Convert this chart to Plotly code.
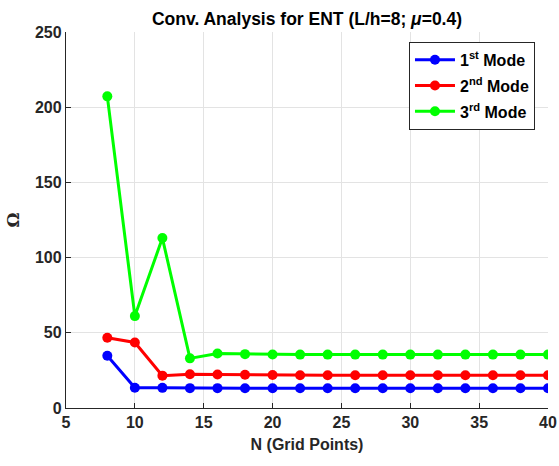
import plotly.graph_objects as go

# Grid size N and natural frequencies for the first three modes
n_points = [8, 10, 12, 14, 16, 18, 20, 22, 24, 26, 28, 30, 32, 34, 36, 38, 40]
mode1 = [34.7, 13.5, 13.4, 13.2, 13.2, 13.1, 13.1, 13.1, 13.1, 13.1, 13.1, 13.1, 13.1, 13.1, 13.1, 13.1, 13.1]
mode2 = [46.7, 43.6, 21.5, 22.4, 22.3, 22.1, 21.9, 21.8, 21.8, 21.8, 21.8, 21.8, 21.8, 21.8, 21.8, 21.8, 21.8]
mode3 = [207.2, 61.1, 113.0, 33.0, 36.2, 35.8, 35.6, 35.5, 35.5, 35.5, 35.5, 35.5, 35.5, 35.5, 35.5, 35.5, 35.5]

series = [
    ("1<sup>st</sup> Mode", mode1, "#0000ff"),
    ("2<sup>nd</sup> Mode", mode2, "#ff0000"),
    ("3<sup>rd</sup> Mode", mode3, "#00ff00"),
]

font = "Liberation Sans, Arial, Helvetica, sans-serif"
serif = "DejaVu Serif, Liberation Serif, serif"
ink = "#262626"

fig = go.Figure()
for i, (name, vals, color) in enumerate(series):
    fig.add_trace(go.Scatter(
        x=n_points, y=vals, name=name, mode="lines+markers",
        legendgroup=f"g{i}",
        line=dict(color=color, width=3),
        marker=dict(color=color, size=10),
    ))

axis_common = dict(
    showgrid=True, gridcolor="#e3e3e3", gridwidth=1,
    showline=True, linecolor=ink, linewidth=1.3,
    ticks="inside", ticklen=5, tickcolor=ink,
    tickfont=dict(family=font, size=16, color=ink, weight="bold"),
    ticklabeloverflow="allow", automargin=False,
    zeroline=False, mirror=False,
)

fig.update_layout(
    width=559, height=466,
    margin=dict(l=66, r=11, t=32, b=58),
    paper_bgcolor="white", plot_bgcolor="white",
    title=dict(text="Conv. Analysis for ENT (L/h=8; <i>μ</i>=0.4)",
               x=0.5, xanchor="center", xref="paper", y=0.96, yanchor="middle",
               font=dict(family=font, size=17.5, color="black", weight="bold")),
    xaxis=dict(range=[5, 40], tickvals=[5, 10, 15, 20, 25, 30, 35, 40],
               title=dict(text="N (Grid Points)", standoff=8,
                          font=dict(family=font, size=16, color=ink, weight="bold")),
               **axis_common),
    yaxis=dict(range=[0, 250], tickvals=[0, 50, 100, 150, 200, 250],
               title=dict(text="Ω", standoff=10,
                          font=dict(family=serif, size=17, color=ink, weight="bold")),
               **axis_common),
    legend=dict(x=0.973, xanchor="right", y=0.974, yanchor="top",
                bgcolor="white", bordercolor=ink, borderwidth=1,
                font=dict(family=font, size=16, color="black", weight="bold"),
                tracegroupgap=2, itemwidth=40),
    showlegend=True,
)

fig.write_html("out.html")
